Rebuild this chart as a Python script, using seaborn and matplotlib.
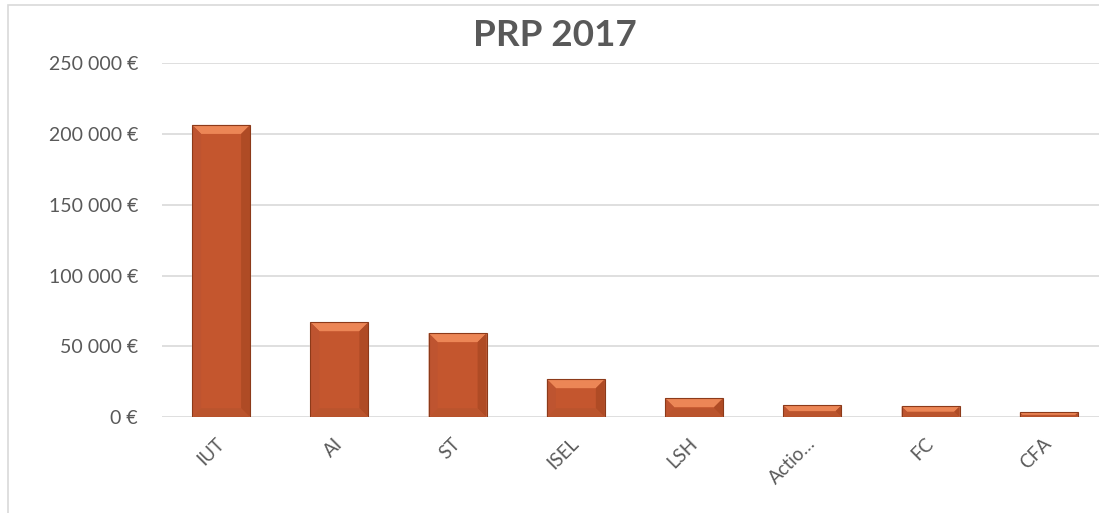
import matplotlib
matplotlib.use("Agg")
import matplotlib.pyplot as plt
import seaborn as sns
import pandas as pd
from matplotlib.patches import Polygon, Rectangle
from matplotlib.ticker import FuncFormatter

# data
composantes = ["IUT", "AI", "ST", "ISEL", "LSH", "Actio…", "FC", "CFA"]
montants = [206300, 67100, 59400, 26900, 13500, 8400, 7700, 3400]

df = pd.DataFrame({"composante": composantes, "montant": montants})

sns.set_theme(style="white")
plt.rcParams["font.family"] = ["Lato", "DejaVu Sans"]

fig = plt.figure(figsize=(10.99, 5.13), dpi=100)
ax = fig.add_axes([162 / 1099, 95.7 / 513, 946 / 1099, 354.3 / 513])

sns.barplot(data=df, x="composante", y="montant", color="#C4562E",
            width=0.49, saturation=1, ax=ax, zorder=3)

ax.set_ylim(0, 250000)
ax.set_yticks(range(0, 250001, 50000))
ax.yaxis.set_major_formatter(FuncFormatter(lambda v, p: f"{int(v):,} €".replace(",", " ")))
ax.grid(axis="y", color="#D9D9D9", linewidth=1.2, zorder=0)
ax.grid(axis="x", visible=False)
for s in ax.spines.values():
    s.set_visible(False)
ax.tick_params(axis="both", length=0, colors="#595959", labelsize=14)
ax.tick_params(axis="y", pad=17.3)
ax.set_xlabel("")
ax.set_ylabel("")
for lbl in ax.get_xticklabels():
    lbl.set_rotation(45)
    lbl.set_ha("right")
    lbl.set_rotation_mode("anchor")
    lbl.set_va("center")
    lbl.set_fontsize(13.5)
ax.tick_params(axis="x", pad=17)

# bevel look on each bar (light top, slightly darker sides)
fig.canvas.draw()
inv = ax.transData.inverted()
for bar in ax.patches:
    x0, w, h = bar.get_x(), bar.get_width(), bar.get_height()
    (px0, py0) = ax.transData.transform((x0, 0))
    (px1, py1) = ax.transData.transform((x0 + w, h))
    d = min(9, (py1 - py0) / 2)
    pts = lambda lst: [inv.transform(p) for p in lst]
    top = pts([(px0, py1), (px1, py1), (px1 - d, py1 - d), (px0 + d, py1 - d)])
    left = pts([(px0, py0), (px0, py1), (px0 + d, py1 - d), (px0 + d, py0 + d)])
    right = pts([(px1, py0), (px1, py1), (px1 - d, py1 - d), (px1 - d, py0 + d)])
    bottom = pts([(px0, py0), (px1, py0), (px1 - d, py0 + d), (px0 + d, py0 + d)])
    ax.add_patch(Polygon(top, closed=True, color="#EC8656", zorder=4, lw=0))
    ax.add_patch(Polygon(left, closed=True, color="#BE5430", zorder=4, lw=0))
    ax.add_patch(Polygon(right, closed=True, color="#AF4B25", zorder=4, lw=0))
    ax.add_patch(Polygon(bottom, closed=True, color="#BA542D", zorder=4, lw=0))
    ax.add_patch(Rectangle((x0, 0), w, h, fill=False, ec="#8C3A1A", lw=0.8, zorder=5))

fig.text(555 / 1099, 1 - 36 / 513, "PRP 2017", ha="center", va="center",
         fontsize=26.5, fontweight="bold", color="#595959")

# chart area border (cut off on the right)
fig.patches.append(Rectangle((8 / 1099, -0.05), 1.1, 1 - 5 / 513 + 0.05,
                             transform=fig.transFigure, fill=False,
                             ec="#D9D9D9", lw=1.2))

fig.savefig("out.png", dpi=100)
